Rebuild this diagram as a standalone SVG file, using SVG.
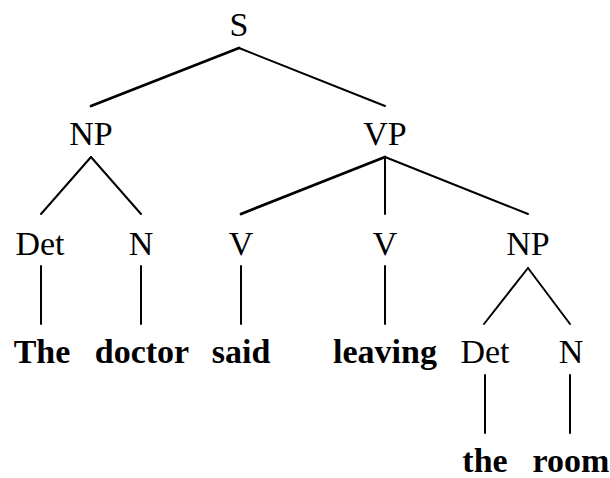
<svg xmlns="http://www.w3.org/2000/svg" width="610" height="478" viewBox="0 0 610 478">
<style>
text{font-family:"Liberation Serif","Times New Roman",serif;font-size:34px;fill:#000;text-anchor:middle}
.w{font-weight:bold}
.c line{stroke:#000;stroke-width:2;stroke-linecap:round}
.c line.t{stroke-width:2.8}
</style>
<rect width="610" height="478" fill="#fff"/>
<g class="c" id="connectors">
<line class="t" x1="239" y1="48" x2="91" y2="106"/>
<line x1="239" y1="48" x2="385" y2="106"/>
<line x1="91" y1="157" x2="41" y2="214"/>
<line x1="91" y1="157" x2="141" y2="214"/>
<line class="t" x1="385" y1="157" x2="241" y2="214"/>
<line x1="385" y1="157" x2="385" y2="214"/>
<line x1="385" y1="157" x2="528" y2="214"/>
<line x1="41" y1="266" x2="41" y2="324"/>
<line x1="141" y1="266" x2="141" y2="324"/>
<line x1="241" y1="266" x2="241" y2="324"/>
<line x1="385" y1="266" x2="385" y2="324"/>
<line x1="528" y1="268" x2="484" y2="324"/>
<line x1="528" y1="268" x2="570" y2="324"/>
<line x1="485" y1="375" x2="485" y2="433"/>
<line x1="570" y1="375" x2="570" y2="433"/>
</g>
<g id="S"><text x="239" y="36">S</text></g>
<g id="NP1"><text x="91" y="145">NP</text></g>
<g id="VP"><text x="385" y="145">VP</text></g>
<g id="Det1"><text x="40" y="255">Det</text></g>
<g id="N1"><text x="141" y="255">N</text></g>
<g id="V1"><text x="241" y="255">V</text></g>
<g id="V2"><text x="385" y="255">V</text></g>
<g id="NP2"><text x="528" y="255">NP</text></g>
<g id="The"><text class="w" x="42" y="363">The</text></g>
<g id="doctor"><text class="w" x="142" y="363">doctor</text></g>
<g id="said"><text class="w" x="241" y="363">said</text></g>
<g id="leaving"><text class="w" x="385" y="363">leaving</text></g>
<g id="Det2"><text x="485" y="363">Det</text></g>
<g id="N2"><text x="571" y="363">N</text></g>
<g id="the"><text class="w" x="485" y="472">the</text></g>
<g id="room"><text class="w" x="571" y="472">room</text></g>
</svg>
